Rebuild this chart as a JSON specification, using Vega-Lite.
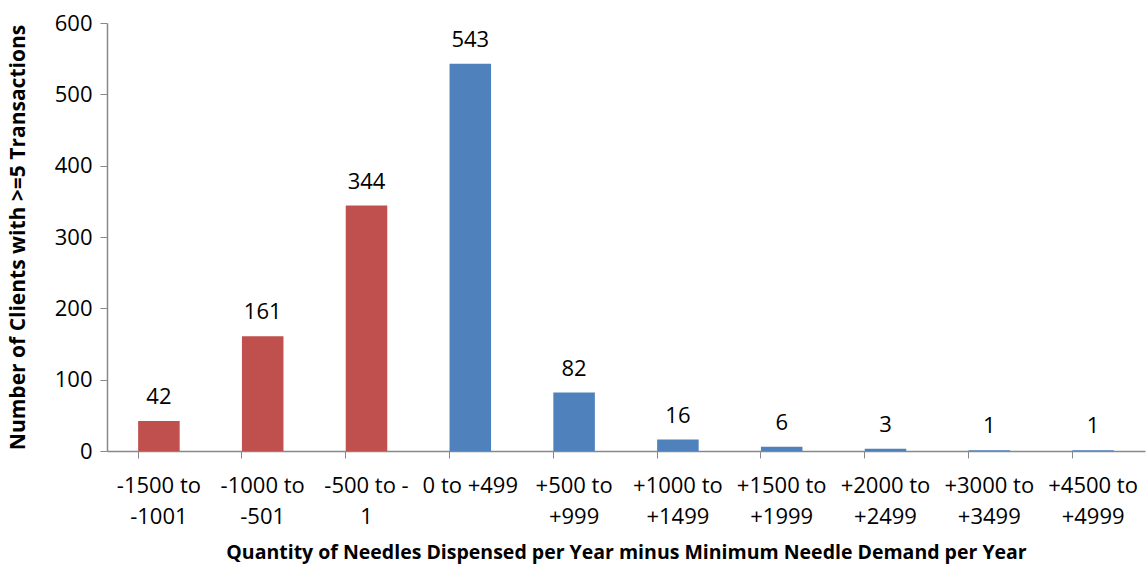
{
  "$schema": "https://vega.github.io/schema/vega-lite/v6.json",
  "autosize": "none",
  "width": 1038,
  "height": 428,
  "padding": {"left": 107, "top": 23, "right": 1, "bottom": 116},
  "background": "white",
  "config": {
    "font": "Open Sans",
    "view": {"stroke": null}
  },
  "data": {
    "values": [
      {"range": "-1500 to|-1001", "clients": 42, "side": "under"},
      {"range": "-1000 to|-501", "clients": 161, "side": "under"},
      {"range": "-500 to -|1", "clients": 344, "side": "under"},
      {"range": "0 to +499", "clients": 543, "side": "over"},
      {"range": "+500 to|+999", "clients": 82, "side": "over"},
      {"range": "+1000 to|+1499", "clients": 16, "side": "over"},
      {"range": "+1500 to|+1999", "clients": 6, "side": "over"},
      {"range": "+2000 to|+2499", "clients": 3, "side": "over"},
      {"range": "+3000 to|+3499", "clients": 1, "side": "over"},
      {"range": "+4500 to|+4999", "clients": 1, "side": "over"}
    ]
  },
  "encoding": {
    "x": {
      "field": "range",
      "type": "nominal",
      "sort": null,
      "scale": {"paddingInner": 0.6, "paddingOuter": 0.3},
      "axis": {
        "title": "Quantity of Needles Dispensed per Year minus Minimum Needle Demand per Year",
        "titleFontSize": 19.5,
        "titleFontWeight": "bold",
        "titleColor": "black",
        "titlePadding": 16,
        "labelExpr": "split(datum.value, '|')",
        "labelAngle": 0,
        "labelFontSize": 22,
        "labelColor": "black",
        "labelLineHeight": 31,
        "labelPadding": 17,
        "labelBaseline": "top",
        "bandPosition": 0,
        "tickSize": 7,
        "tickColor": "#888888",
        "domainColor": "#888888",
        "domainWidth": 1.5,
        "labelOverlap": false
      }
    },
    "y": {
      "field": "clients",
      "type": "quantitative",
      "scale": {"domain": [0, 600]},
      "axis": {
        "title": "Number of Clients with >=5 Transactions",
        "titleFontSize": 21,
        "titleFontWeight": "bold",
        "titleColor": "black",
        "titlePadding": 26,
        "values": [0, 100, 200, 300, 400, 500, 600],
        "grid": false,
        "labelFontSize": 22,
        "labelColor": "black",
        "labelPadding": 8,
        "tickSize": 7,
        "tickColor": "#888888",
        "domainColor": "#888888",
        "domainWidth": 1.5
      }
    }
  },
  "layer": [
    {
      "mark": {"type": "bar"},
      "encoding": {
        "color": {
          "field": "side",
          "type": "nominal",
          "scale": {"domain": ["under", "over"], "range": ["#C0504D", "#4F81BD"]},
          "legend": null
        }
      }
    },
    {
      "mark": {"type": "text", "baseline": "bottom", "dy": -12, "fontSize": 22, "color": "black"},
      "encoding": {"text": {"field": "clients", "type": "quantitative"}}
    }
  ]
}
